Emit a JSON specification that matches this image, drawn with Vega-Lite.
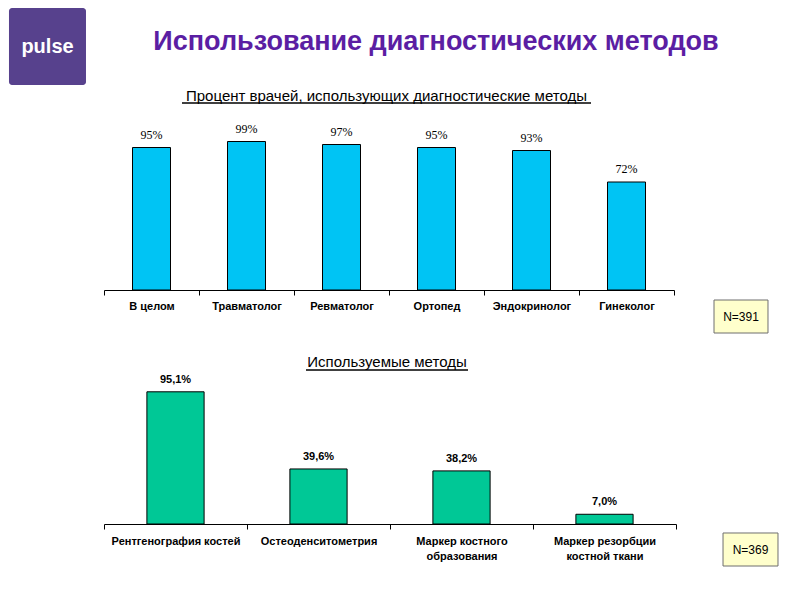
{
  "$schema": "https://vega.github.io/schema/vega-lite/v6.json",
  "padding": {"left": 8, "top": 8, "right": 5, "bottom": 5},
  "background": "white",
  "bounds": "flush",
  "spacing": 95,
  "config": {
    "view": {"stroke": null},
    "font": "Liberation Sans",
    "locale": {"number": {"decimal": ",", "thousands": " ", "grouping": [3], "currency": ["", ""]}},
    "axisX": {
      "labelFont": "Liberation Sans",
      "labelFontWeight": "bold",
      "labelFontSize": 11,
      "labelColor": "#000000",
      "labelAngle": 0,
      "labelLimit": 300,
      "labelPadding": 5,
      "labelLineHeight": 15,
      "domainColor": "#000000",
      "grid": false,
      "title": null
    }
  },
  "vconcat": [
    {
      "width": 570,
      "height": 150,
      "data": {"values": [
        {"cat": "В целом", "v": 0.95},
        {"cat": "Травматолог", "v": 0.99},
        {"cat": "Ревматолог", "v": 0.97},
        {"cat": "Ортопед", "v": 0.95},
        {"cat": "Эндокринолог", "v": 0.93},
        {"cat": "Гинеколог", "v": 0.72}
      ]},
      "resolve": {"scale": {"x": "independent"}, "axis": {"x": "independent"}},
      "layer": [
        {
          "encoding": {
            "x": {"field": "cat", "type": "nominal", "sort": null, "scale": {"paddingInner": 0, "paddingOuter": 0},
                  "axis": {"ticks": true, "tickBand": "extent", "tickSize": 5, "tickWidth": 1, "tickColor": "#000000"}},
            "y": {"field": "v", "type": "quantitative", "scale": {"domain": [0, 1], "nice": false}, "axis": null}
          },
          "layer": [
            {"mark": {"type": "bar", "width": {"band": 0.4}, "fill": "#00c4f4", "stroke": "#000000", "strokeWidth": 1}},
            {"mark": {"type": "text", "font": "Liberation Serif", "fontSize": 12, "baseline": "bottom", "dy": -6, "color": "#000000"},
             "encoding": {"text": {"field": "v", "type": "quantitative", "format": ".0%"}}}
          ]
        },
        {
          "data": {"values": [{}]},
          "layer": [
            {"mark": {"type": "rect", "fill": "#57418d", "cornerRadius": 3},
             "encoding": {
               "x": {"datum": -0.1667, "type": "quantitative", "scale": {"domain": [0, 1], "nice": false, "zero": false}, "axis": null},
               "x2": {"datum": -0.0316},
               "y": {"datum": 1.88, "type": "quantitative", "scale": {"domain": [0, 1], "nice": false}},
               "y2": {"datum": 1.3667}
             }},
            {"mark": {"type": "text", "text": "pulse", "fill": "#ffffff", "fontSize": 20, "fontWeight": "bold", "align": "center", "baseline": "middle"},
             "encoding": {
               "x": {"datum": -0.0991, "type": "quantitative", "scale": {"domain": [0, 1], "nice": false, "zero": false}, "axis": null},
               "y": {"datum": 1.62, "type": "quantitative", "scale": {"domain": [0, 1], "nice": false}}
             }},
            {"mark": {"type": "text", "text": "Использование диагностических методов", "fill": "#5b1ea3", "fontSize": 27, "fontWeight": "bold", "align": "center", "baseline": "middle"},
             "encoding": {
               "x": {"datum": 0.5825, "type": "quantitative", "scale": {"domain": [0, 1], "nice": false, "zero": false}, "axis": null},
               "y": {"datum": 1.6533, "type": "quantitative", "scale": {"domain": [0, 1], "nice": false}}
             }},
            {"mark": {"type": "text", "text": "Процент врачей, использующих диагностические методы", "fill": "#000000", "fontSize": 15, "align": "center", "baseline": "middle"},
             "encoding": {
               "x": {"datum": 0.4956, "type": "quantitative", "scale": {"domain": [0, 1], "nice": false, "zero": false}, "axis": null},
               "y": {"datum": 1.2933, "type": "quantitative", "scale": {"domain": [0, 1], "nice": false}}
             }},
            {"mark": {"type": "rule", "color": "#000000", "strokeWidth": 1.5},
             "encoding": {
               "x": {"datum": 0.1368, "type": "quantitative", "scale": {"domain": [0, 1], "nice": false, "zero": false}, "axis": null},
               "x2": {"datum": 0.8544},
               "y": {"datum": 1.2467, "type": "quantitative", "scale": {"domain": [0, 1], "nice": false}}
             }},
            {"mark": {"type": "rect", "fill": "#ffffcc", "stroke": "#6f6f6f", "strokeWidth": 1},
             "encoding": {
               "x": {"datum": 1.0702, "type": "quantitative", "scale": {"domain": [0, 1], "nice": false, "zero": false}, "axis": null},
               "x2": {"datum": 1.1649},
               "y": {"datum": -0.0667, "type": "quantitative", "scale": {"domain": [0, 1], "nice": false}},
               "y2": {"datum": -0.2867}
             }},
            {"mark": {"type": "text", "text": "N=391", "fill": "#000000", "fontSize": 12, "align": "center", "baseline": "middle"},
             "encoding": {
               "x": {"datum": 1.1175, "type": "quantitative", "scale": {"domain": [0, 1], "nice": false, "zero": false}, "axis": null},
               "y": {"datum": -0.1767, "type": "quantitative", "scale": {"domain": [0, 1], "nice": false}}
             }}
          ]
        }
      ]
    },
    {
      "width": 572,
      "height": 139,
      "data": {"values": [
        {"cat": "Рентгенография костей", "v": 0.951},
        {"cat": "Остеоденситометрия", "v": 0.396},
        {"cat": "Маркер костного|образования", "v": 0.382},
        {"cat": "Маркер резорбции|костной ткани", "v": 0.07}
      ]},
      "resolve": {"scale": {"x": "independent"}, "axis": {"x": "independent"}},
      "layer": [
        {
          "encoding": {
            "x": {"field": "cat", "type": "nominal", "sort": null, "scale": {"paddingInner": 0, "paddingOuter": 0},
                  "axis": {"labelExpr": "split(datum.label, '|')", "labelPadding": 6, "ticks": true, "tickBand": "extent", "tickSize": 5, "tickWidth": 1, "tickColor": "#000000"}},
            "y": {"field": "v", "type": "quantitative", "scale": {"domain": [0, 1], "nice": false}, "axis": null}
          },
          "layer": [
            {"mark": {"type": "bar", "width": {"band": 0.4}, "fill": "#00c896", "stroke": "#000000", "strokeWidth": 1}},
            {"mark": {"type": "text", "font": "Liberation Sans", "fontWeight": "bold", "fontSize": 11, "baseline": "bottom", "dy": -7, "color": "#000000"},
             "encoding": {"text": {"field": "v", "type": "quantitative", "format": ".1%"}}}
          ]
        },
        {
          "data": {"values": [{}]},
          "layer": [
            {"mark": {"type": "text", "text": "Используемые методы", "fill": "#000000", "fontSize": 15, "align": "center", "baseline": "middle"},
             "encoding": {
               "x": {"datum": 0.4948, "type": "quantitative", "scale": {"domain": [0, 1], "nice": false, "zero": false}, "axis": null},
               "y": {"datum": 1.1655, "type": "quantitative", "scale": {"domain": [0, 1], "nice": false}}
             }},
            {"mark": {"type": "rule", "color": "#000000", "strokeWidth": 1.5},
             "encoding": {
               "x": {"datum": 0.3531, "type": "quantitative", "scale": {"domain": [0, 1], "nice": false, "zero": false}, "axis": null},
               "x2": {"datum": 0.6364},
               "y": {"datum": 1.1079, "type": "quantitative", "scale": {"domain": [0, 1], "nice": false}}
             }},
            {"mark": {"type": "rect", "fill": "#ffffcc", "stroke": "#6f6f6f", "strokeWidth": 1},
             "encoding": {
               "x": {"datum": 1.0822, "type": "quantitative", "scale": {"domain": [0, 1], "nice": false, "zero": false}, "axis": null},
               "x2": {"datum": 1.1783},
               "y": {"datum": -0.0647, "type": "quantitative", "scale": {"domain": [0, 1], "nice": false}},
               "y2": {"datum": -0.3022}
             }},
            {"mark": {"type": "text", "text": "N=369", "fill": "#000000", "fontSize": 12, "align": "center", "baseline": "middle"},
             "encoding": {
               "x": {"datum": 1.1302, "type": "quantitative", "scale": {"domain": [0, 1], "nice": false, "zero": false}, "axis": null},
               "y": {"datum": -0.1835, "type": "quantitative", "scale": {"domain": [0, 1], "nice": false}}
             }}
          ]
        }
      ]
    }
  ]
}
